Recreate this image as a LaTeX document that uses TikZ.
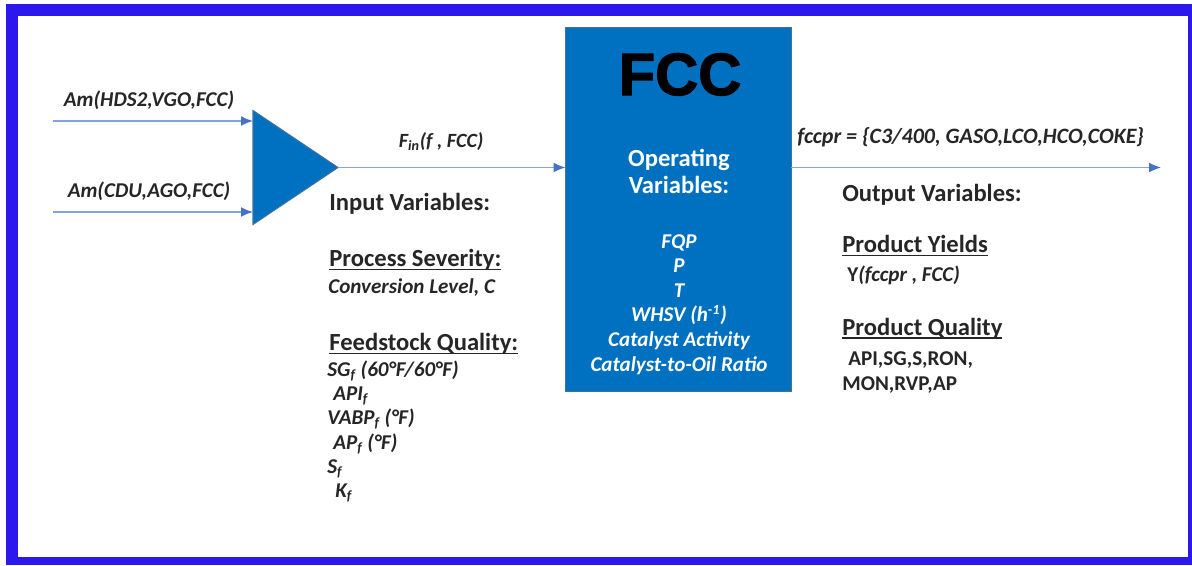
\documentclass[tikz,border=0pt]{standalone}
\usepackage{fontspec}
\setmainfont{Carlito}
\newfontface\titlefont[FakeBold=2]{Liberation Sans Bold}
\usetikzlibrary{arrows.meta,shapes.geometric}

\definecolor{framecol}{RGB}{42,24,238}
\definecolor{unitcol}{RGB}{0,112,192}
\definecolor{edgecol}{RGB}{65,113,156}
\definecolor{linecol}{RGB}{132,164,222}
\definecolor{tipcol}{RGB}{68,114,196}
\definecolor{txtcol}{RGB}{38,38,38}
\newcommand{\ulined}[1]{\setbox0\hbox{#1}\rlap{\copy0}\rule[-2.2pt]{\wd0}{0.9pt}}

\begin{document}
\begin{tikzpicture}[
  x=0.02cm,y=-0.02cm,
  font=\bfseries\fontsize{14}{16}\selectfont,
  txt/.style={anchor=base west,inner sep=0pt,text=txtcol},
  head/.style={txt,font=\bfseries\fontsize{14}{16}\selectfont},
  var/.style={txt,font=\bfseries\itshape\fontsize{12}{14}\selectfont},
  plain/.style={txt,font=\bfseries\fontsize{12}{14}\selectfont},
  lbl/.style={var,anchor=base},
  opvar/.style={anchor=base,inner sep=0pt,text=white,font=\bfseries\itshape\fontsize{12}{14}\selectfont},
  unit/.style={draw=edgecol,fill=unitcol,line width=0.6pt,inner sep=0pt,outer sep=0pt},
  flow/.style={-{Latex[length=2.4mm,width=2mm,color=tipcol]},draw=linecol,line width=0.9pt}
]
\useasboundingbox (0,0) rectangle (1192,565);
\fill[white] (0,0) rectangle (1192,565);
\fill[framecol] (6,4) rectangle (1192,565);
\fill[white] (18,16) rectangle (1188,557);

% mixer and unit
\node[unit,isosceles triangle,isosceles triangle stretches,shape border rotate=0,
  minimum width=2.28cm,minimum height=1.7cm,anchor=west] (mix) at (253,167.5) {};
\node[unit,minimum width=4.52cm,minimum height=7.28cm] (fcc) at (678.5,209.5) {};

% feeds
\coordinate (hds) at (53,121);
\coordinate (cdu) at (53,212);
\coordinate (prod) at (1161,167.5);
\draw[flow] (hds) -- (hds -| mix.west);
\draw[flow] (cdu) -- (cdu -| mix.west);
\draw[flow] (mix.apex) -- (mix.apex -| fcc.west);
\draw[flow] (mix.apex -| fcc.east) -- (prod);

\node[lbl] (hdslbl) at (149,106) {Am(HDS2,VGO,FCC)};
\node[lbl] (cdulbl) at (149,197) {Am(CDU,AGO,FCC)};
\node[lbl,font=\bfseries\itshape\fontsize{11.5}{13}\selectfont] (finlbl) at (441,147) {F\textsubscript{in}(f , FCC)};
\node[var,font=\bfseries\itshape\fontsize{12.5}{14}\selectfont] (prodlbl) at (797,143) {fccpr = \{C3/400, GASO,LCO,HCO,COKE\}};

% inside the unit
\node[anchor=base,inner sep=0pt,font=\titlefont\fontsize{34}{36}\selectfont] (title) at (680,95) {FCC};
\node[anchor=base,inner sep=0pt,text=white] (op1) at (679,166.5) {Operating};
\node[anchor=base,inner sep=0pt,text=white] (op2) at (679,193) {Variables:};
\foreach \v [count=\i] in {FQP,P,T,WHSV (h\textsuperscript{-1}),Catalyst Activity,Catalyst-to-Oil Ratio}
  \node[opvar] (opv\i) at (679,{248+(\i-1)*24.6}) {\v};

% input side
\node[head] (inhead) at (329,210) {Input Variables:};
\node[head] (sevhead) at (329,266.5) {\ulined{Process Severity:}};
\node[var] (conv) at (328,293) {Conversion Level, C};
\node[head] (feedhead) at (329,350.5) {\ulined{Feedstock Quality:}};
\node[var] (sg) at (327,376) {SG\textsubscript{f} (60°F/60°F)};
\node[var] (api) at (333,400) {API\textsubscript{f}};
\node[var] (vabp) at (327,424.5) {VABP\textsubscript{f} (°F)};
\node[var] (ap) at (333,449) {AP\textsubscript{f} (°F)};
\node[var] (sf) at (327,473) {S\textsubscript{f}};
\node[var] (kf) at (335,497) {K\textsubscript{f}};

% output side
\node[head] (outhead) at (842,201.5) {Output Variables:};
\node[head] (yldhead) at (842,252.5) {\ulined{Product Yields}};
\node[plain] (yld) at (847,281.5) {Y\textit{(fccpr , FCC)}};
\node[head] (qualhead) at (842,335) {\ulined{Product Quality}};
\node[plain] (qual1) at (848,365) {API,SG,S,RON,};
\node[plain] (qual2) at (842,390) {MON,RVP,AP};
\end{tikzpicture}
\end{document}
